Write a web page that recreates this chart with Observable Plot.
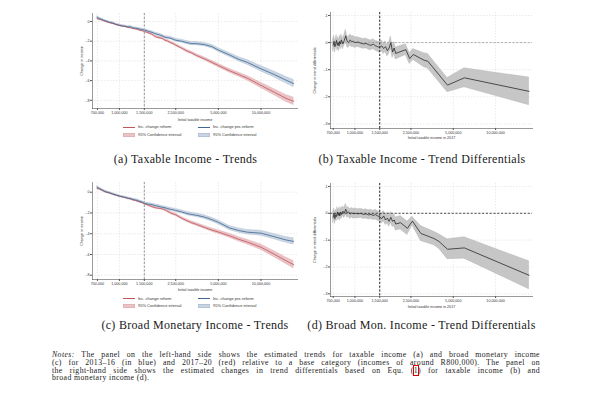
<!DOCTYPE html>
<html><head><meta charset="utf-8">
<script src="https://cdn.jsdelivr.net/npm/d3@7"></script>
<script src="https://cdn.jsdelivr.net/npm/@observablehq/plot@0.6"></script>
<style>
body{margin:0;background:#fff;}
#fig{position:relative;width:602px;height:416px;overflow:hidden;background:#fff;font-family:"Liberation Sans",Arial,sans-serif;}
#fig svg{position:absolute;overflow:visible;}
.cap{position:absolute;font-family:"Liberation Serif","Times New Roman",serif;font-size:12px;letter-spacing:0.3px;white-space:nowrap;transform:translate(-50%,-50%);line-height:1;color:#1a1a1a;}
.leg{position:absolute;font-size:4px;line-height:4px;color:#333;white-space:nowrap;}
.sw{position:absolute;}
.notes{position:absolute;left:52px;width:488px;font-family:"Liberation Serif","Times New Roman",serif;font-size:7.8px;letter-spacing:0.4px;color:#1a1a1a;}
.notes div{height:7.8px;line-height:7.8px;white-space:nowrap;}
.notes .j{text-align:justify;text-align-last:justify;white-space:normal;}
.ref{outline:0.8px solid #e00000;outline-offset:0px;}
</style></head>
<body><div id="fig"></div>
<script>
// ---------- data ----------
const ticksX = [700000, 1000000, 1500000, 2500000, 5000000, 10000000];
const reformThreshold = [1500000];
const yTicksTrend = [0, -0.2, -0.4, -0.6, -0.8];
const yTickLabelsTrend = ["0", "-.2", "-.4", "-.6", "-.8"];
const yTicksDiff = [0.1, 0, -0.1, -0.2, -0.3];
const yTickLabelsDiff = [".1", "0", "-.1", "-.2", "-.3"];
const zeroLine = [0];

const trendIncome = [700000, 725000, 750000, 775000, 800000, 850000, 900000, 950000, 1000000, 1050000, 1100000, 1150000, 1200000, 1250000, 1300000, 1350000, 1400000, 1450000, 1500000, 1600000, 1700000, 1800000, 1900000, 2000000, 2100000, 2200000, 2300000, 2400000, 2500000, 2750000, 3000000, 3250000, 3500000, 4000000, 4500000, 5000000, 6000000, 7000000, 8000000, 10000000, 12500000, 15000000, 17000000];

// (a) taxable income
const taxPreVal = [0.04, 0.028, 0.022, 0.012, 0.006, -0.008, -0.016, -0.03, -0.038, -0.047, -0.049, -0.056, -0.053, -0.066, -0.068, -0.072, -0.078, -0.082, -0.086, -0.1, -0.11, -0.125, -0.135, -0.145, -0.16, -0.165, -0.17, -0.18, -0.19, -0.2, -0.215, -0.225, -0.225, -0.235, -0.255, -0.29, -0.34, -0.385, -0.415, -0.48, -0.54, -0.595, -0.63];
const taxPreCI = [0.012, 0.01, 0.008, 0.008, 0.007, 0.007, 0.007, 0.007, 0.007, 0.007, 0.008, 0.008, 0.008, 0.008, 0.009, 0.009, 0.009, 0.009, 0.01, 0.01, 0.011, 0.011, 0.012, 0.012, 0.013, 0.013, 0.014, 0.014, 0.015, 0.015, 0.016, 0.016, 0.017, 0.017, 0.018, 0.018, 0.02, 0.022, 0.024, 0.027, 0.03, 0.033, 0.036];
const taxRefVal = [0.03, 0.022, 0.016, 0.008, 0.0, -0.012, -0.02, -0.032, -0.04, -0.046, -0.05, -0.06, -0.064, -0.07, -0.076, -0.08, -0.09, -0.094, -0.1, -0.115, -0.13, -0.155, -0.165, -0.17, -0.19, -0.2, -0.215, -0.225, -0.24, -0.27, -0.3, -0.32, -0.345, -0.38, -0.415, -0.447, -0.5, -0.54, -0.575, -0.649, -0.72, -0.78, -0.81];
const taxRefCI = [0.012, 0.01, 0.008, 0.008, 0.007, 0.007, 0.007, 0.007, 0.007, 0.007, 0.007, 0.007, 0.008, 0.008, 0.008, 0.008, 0.008, 0.008, 0.009, 0.009, 0.009, 0.01, 0.01, 0.01, 0.01, 0.011, 0.011, 0.011, 0.012, 0.012, 0.013, 0.013, 0.014, 0.015, 0.016, 0.017, 0.019, 0.021, 0.023, 0.027, 0.031, 0.035, 0.038];

// (c) broad monetary income
const bmiPreVal = [0.045, 0.035, 0.025, 0.015, 0.005, -0.005, -0.018, -0.028, -0.038, -0.045, -0.05, -0.058, -0.062, -0.07, -0.075, -0.08, -0.09, -0.095, -0.106, -0.115, -0.12, -0.13, -0.136, -0.145, -0.15, -0.158, -0.165, -0.17, -0.176, -0.19, -0.205, -0.215, -0.222, -0.24, -0.265, -0.29, -0.345, -0.37, -0.385, -0.395, -0.43, -0.46, -0.474];
const bmiPreCI = [0.012, 0.01, 0.008, 0.008, 0.007, 0.007, 0.007, 0.007, 0.007, 0.007, 0.008, 0.008, 0.008, 0.008, 0.009, 0.009, 0.009, 0.009, 0.01, 0.01, 0.011, 0.011, 0.012, 0.012, 0.013, 0.013, 0.014, 0.014, 0.015, 0.015, 0.016, 0.016, 0.017, 0.017, 0.018, 0.018, 0.02, 0.021, 0.022, 0.024, 0.026, 0.028, 0.03];
const bmiRefVal = [0.038, 0.03, 0.02, 0.01, 0.002, -0.008, -0.02, -0.03, -0.038, -0.045, -0.052, -0.06, -0.065, -0.075, -0.08, -0.088, -0.095, -0.1, -0.112, -0.125, -0.14, -0.15, -0.155, -0.16, -0.17, -0.185, -0.2, -0.21, -0.218, -0.25, -0.275, -0.295, -0.31, -0.34, -0.365, -0.384, -0.42, -0.455, -0.48, -0.53, -0.6, -0.66, -0.698];
const bmiRefCI = [0.012, 0.01, 0.008, 0.008, 0.007, 0.007, 0.007, 0.007, 0.007, 0.007, 0.007, 0.007, 0.008, 0.008, 0.008, 0.008, 0.008, 0.008, 0.009, 0.009, 0.009, 0.01, 0.01, 0.01, 0.01, 0.011, 0.011, 0.011, 0.012, 0.012, 0.013, 0.013, 0.014, 0.015, 0.016, 0.017, 0.019, 0.021, 0.023, 0.026, 0.029, 0.032, 0.035];

// (b), (d) trend differentials
const diffIncomeLow = [700000, 710000, 720000, 730000, 740000, 750000, 760000, 770000, 780000, 790000, 800000, 820000, 840000, 860000, 880000, 900000, 925000, 950000, 975000, 1000000, 1050000, 1100000, 1150000, 1200000, 1250000, 1300000, 1350000, 1400000, 1450000, 1500000, 1550000, 1600000, 1650000, 1700000, 1750000, 1800000, 1850000, 1900000, 1950000];
const taxDiffIncomeTail = [2300000, 2450000, 2600000, 3100000, 3300000, 4550000, 6000000, 17300000];
const taxDiffVal = [-0.01, 0.005, -0.015, -0.005, 0.008, -0.01, 0.0, -0.012, 0.005, -0.005, 0.01, -0.005, 0.008, 0.025, 0.005, 0.0, 0.01, 0.003, 0.005, 0.0, 0.002, -0.002, -0.005, -0.003, -0.008, -0.01, -0.006, -0.012, -0.015, -0.018, -0.012, -0.022, -0.015, -0.03, -0.02, 0.0, -0.035, -0.02, -0.04,
  -0.026, -0.059, -0.044, -0.065, -0.069, -0.157, -0.13, -0.18];
const taxDiffCI = [0.022, 0.02, 0.022, 0.02, 0.02, 0.02, 0.02, 0.02, 0.02, 0.02, 0.02, 0.02, 0.02, 0.022, 0.02, 0.02, 0.02, 0.02, 0.02, 0.02, 0.018, 0.018, 0.018, 0.018, 0.018, 0.018, 0.018, 0.018, 0.019, 0.02, 0.02, 0.02, 0.02, 0.021, 0.021, 0.022, 0.022, 0.022, 0.022,
  0.02, 0.02, 0.02, 0.026, 0.027, 0.026, 0.035, 0.051];
const bmiDiffIncomeTail = [2110000, 2360000, 2560000, 2940000, 3650000, 3960000, 4550000, 6000000, 17300000];
const bmiDiffVal = [-0.015, 0.0, -0.02, -0.005, -0.012, 0.005, -0.008, 0.002, -0.01, 0.005, -0.005, 0.008, 0.0, 0.015, 0.002, 0.005, -0.003, 0.002, -0.002, 0.0, -0.002, 0.0, -0.004, -0.002, -0.006, -0.004, -0.008, -0.005, -0.01, -0.012, -0.02, -0.01, -0.025, -0.018, -0.03, -0.015, -0.03, -0.025, -0.04,
  -0.035, -0.056, -0.029, -0.075, -0.094, -0.105, -0.134, -0.129, -0.231];
const bmiDiffCI = [0.02, 0.018, 0.02, 0.018, 0.018, 0.018, 0.018, 0.018, 0.018, 0.018, 0.018, 0.018, 0.018, 0.02, 0.018, 0.018, 0.018, 0.018, 0.018, 0.018, 0.017, 0.017, 0.017, 0.017, 0.017, 0.017, 0.017, 0.018, 0.018, 0.018, 0.019, 0.019, 0.019, 0.02, 0.02, 0.02, 0.021, 0.022, 0.024,
  0.025, 0.025, 0.016, 0.028, 0.025, 0.027, 0.037, 0.04, 0.052];

// ---------- helpers ----------
const fig = document.getElementById("fig");
const rows = (xs, vs, cs) => xs.map((x, i) => ({income: x, value: vs[i], lo: vs[i] - cs[i], hi: vs[i] + cs[i]}));
const fmtX = d3.format(",");
const lab = (ticks, labels) => v => labels[ticks.findIndex(t => Math.abs(t - v) < 1e-9)];
const FONT = "'Liberation Sans', Arial, sans-serif";
const gridStyle = {stroke: "#d4d4d4", strokeOpacity: 1, strokeWidth: 0.5, strokeDasharray: "1.5,1.5"};
const axisStyle = {fontSize: 3.7, stroke: "#555", fill: "#333", tickSize: 2, tickPadding: 1, labelArrow: "none", labelAnchor: "center"};

function place(svg, left, top) { svg.style.left = left + "px"; svg.style.top = top + "px"; fig.appendChild(svg); }

function xAxis(label, labelOffset) {
  // ticks: Infinity keeps every listed log tick labelled
  return Plot.axisX(ticksX, {...axisStyle, ticks: Infinity, tickFormat: fmtX, label, labelOffset});
}

function trendPanel(cfg) {
  const ref = rows(trendIncome, cfg.refVal, cfg.refCI);
  const pre = rows(trendIncome, cfg.preVal, cfg.preCI);
  return Plot.plot({
    width: cfg.width, height: cfg.height,
    marginLeft: cfg.ml, marginTop: cfg.mt, marginRight: cfg.mr, marginBottom: cfg.mb,
    style: {fontFamily: FONT, background: "transparent", color: "#333"},
    x: {type: "log", domain: cfg.xDomain},
    y: {domain: cfg.yDomain},
    marks: [
      Plot.gridY(yTicksTrend, gridStyle),
      Plot.gridX(ticksX, gridStyle),
      Plot.ruleX(reformThreshold, {stroke: "#8a8a8a", strokeWidth: 0.9, strokeDasharray: "2.2,1.6"}),
      Plot.areaY(ref, {x: "income", y1: "lo", y2: "hi", fill: "#eac3c7", stroke: "#d9a3a8", strokeWidth: 0.35}),
      Plot.areaY(pre, {x: "income", y1: "lo", y2: "hi", fill: "#c9d5e2", stroke: "#9fb3c9", strokeWidth: 0.35}),
      Plot.lineY(ref, {x: "income", y: "value", stroke: "#c0555a", strokeWidth: 0.8}),
      Plot.lineY(pre, {x: "income", y: "value", stroke: "#3f6590", strokeWidth: 0.8}),
      Plot.frame({anchor: "left", stroke: "#555", strokeWidth: 0.6}),
      Plot.frame({anchor: "bottom", stroke: "#555", strokeWidth: 0.6}),
      Plot.axisY(yTicksTrend, {...axisStyle, tickFormat: lab(yTicksTrend, yTickLabelsTrend), label: "Change in income", labelOffset: cfg.ylo}),
      xAxis("Initial taxable income", cfg.xlo)
    ]
  });
}

function diffPanel(cfg) {
  const d = rows(diffIncomeLow.concat(cfg.tail), cfg.val, cfg.ci);
  return Plot.plot({
    width: cfg.width, height: cfg.height,
    marginLeft: cfg.ml, marginTop: cfg.mt, marginRight: cfg.mr, marginBottom: cfg.mb,
    style: {fontFamily: FONT, background: "transparent", color: "#333"},
    x: {type: "log", domain: cfg.xDomain},
    y: {domain: cfg.yDomain},
    marks: [
      Plot.gridY(yTicksDiff, gridStyle),
      Plot.gridX(ticksX, gridStyle),
      Plot.areaY(d, {x: "income", y1: "lo", y2: "hi", fill: "#c6c6c6", stroke: "#a8a8a8", strokeWidth: 0.35}),
      Plot.ruleY(zeroLine, {stroke: cfg.zeroColor, strokeWidth: 0.8, strokeDasharray: "2.2,1.6"}),
      Plot.ruleX(reformThreshold, {stroke: "#111", strokeWidth: 0.9, strokeDasharray: "2.2,1.6"}),
      Plot.lineY(d, {x: "income", y: "value", stroke: "#2a2a2a", strokeWidth: 0.8}),
      Plot.frame({anchor: "left", stroke: "#555", strokeWidth: 0.6}),
      Plot.frame({anchor: "bottom", stroke: "#555", strokeWidth: 0.6}),
      Plot.axisY(yTicksDiff, {...axisStyle, tickFormat: lab(yTicksDiff, yTickLabelsDiff), label: "Change in trend differentials", labelOffset: cfg.ylo}),
      xAxis("Initial taxable income in 2017", cfg.xlo)
    ]
  });
}

// ---------- panels ----------
place(trendPanel({refVal: taxRefVal, refCI: taxRefCI, preVal: taxPreVal, preCI: taxPreCI,
  width: 235, height: 122, ml: 22, mt: 8, mr: 8, mb: 19, xDomain: [646000, 18100000], yDomain: [-0.883, 0.081], ylo: 12, xlo: 12}), 70, 5);
place(trendPanel({refVal: bmiRefVal, refCI: bmiRefCI, preVal: bmiPreVal, preCI: bmiPreCI,
  width: 235, height: 126, ml: 22, mt: 8, mr: 8, mb: 21, xDomain: [646000, 18100000], yDomain: [-0.841, 0.0935], ylo: 12, xlo: 11}), 70, 174);
place(diffPanel({tail: taxDiffIncomeTail, val: taxDiffVal, ci: taxDiffCI, zeroColor: "#9a9a9a",
  width: 240, height: 144, ml: 30, mt: 8, mr: 8, mb: 20, xDomain: [670000, 18300000], yDomain: [-0.317, 0.111], ylo: 17, xlo: 10}), 300, 4);
place(diffPanel({tail: bmiDiffIncomeTail, val: bmiDiffVal, ci: bmiDiffCI, zeroColor: "#222",
  width: 240, height: 141, ml: 30, mt: 8, mr: 8, mb: 20, xDomain: [670000, 18300000], yDomain: [-0.31, 0.111], ylo: 17, xlo: 11}), 300, 175);

// ---------- legends ----------
const legendItems = [
  {label: "Inc. change reform", kind: "line", color: "#c0555a", col: 0, row: 0},
  {label: "Inc. change pre-reform", kind: "line", color: "#3f6590", col: 1, row: 0},
  {label: "95% Confidence interval", kind: "area", color: "#eac3c7", edge: "#d9a3a8", col: 0, row: 1},
  {label: "95% Confidence interval", kind: "area", color: "#c9d5e2", edge: "#9fb3c9", col: 1, row: 1}
];
function legend(rowCenters) {
  const colX = [123, 198];
  legendItems.forEach(it => {
    const cy = rowCenters[it.row];
    const sw = document.createElement("div");
    sw.className = "sw";
    sw.style.left = colX[it.col] + "px";
    sw.style.width = "12px";
    if (it.kind === "line") {
      sw.style.top = (cy - 0.4) + "px"; sw.style.height = "0.8px"; sw.style.background = it.color;
    } else {
      sw.style.top = (cy - 2.2) + "px"; sw.style.height = "4.4px"; sw.style.background = it.color;
      sw.style.boxShadow = "inset 0 0 0 0.4px " + it.edge;
    }
    fig.appendChild(sw);
    const t = document.createElement("div");
    t.className = "leg";
    t.textContent = it.label;
    t.style.left = (colX[it.col] + 15) + "px";
    t.style.top = (cy - 2) + "px";
    fig.appendChild(t);
  });
}
legend([127.3, 135]);
legend([298.5, 305.8]);

// ---------- captions ----------
const captions = [
  {text: "(a) Taxable Income - Trends", x: 185.5, y: 159},
  {text: "(b) Taxable Income - Trend Differentials", x: 422, y: 159},
  {text: "(c) Broad Monetary Income - Trends", x: 195, y: 324.5},
  {text: "(d) Broad Mon. Income - Trend Differentials", x: 421.5, y: 324.5}
];
captions.forEach(c => {
  const el = document.createElement("div");
  el.className = "cap"; el.textContent = c.text;
  el.style.left = c.x + "px"; el.style.top = c.y + "px";
  fig.appendChild(el);
});

// ---------- notes ----------
const notes = document.createElement("div");
notes.className = "notes";
notes.style.top = "351px";
notes.innerHTML =
  '<div class="j"><i>Notes:</i> The panel on the left-hand side shows the estimated trends for taxable income (a) and broad monetary income</div>' +
  '<div class="j">(c) for 2013–16 (in blue) and 2017–20 (red) relative to a base category (incomes of around R800,000). The panel on</div>' +
  '<div class="j">the right-hand side shows the estimated changes in trend differentials based on Equ. (<span class="ref">1</span>) for taxable income (b) and</div>' +
  '<div>broad monetary income (d).</div>';
fig.appendChild(notes);
</script>
</body></html>
